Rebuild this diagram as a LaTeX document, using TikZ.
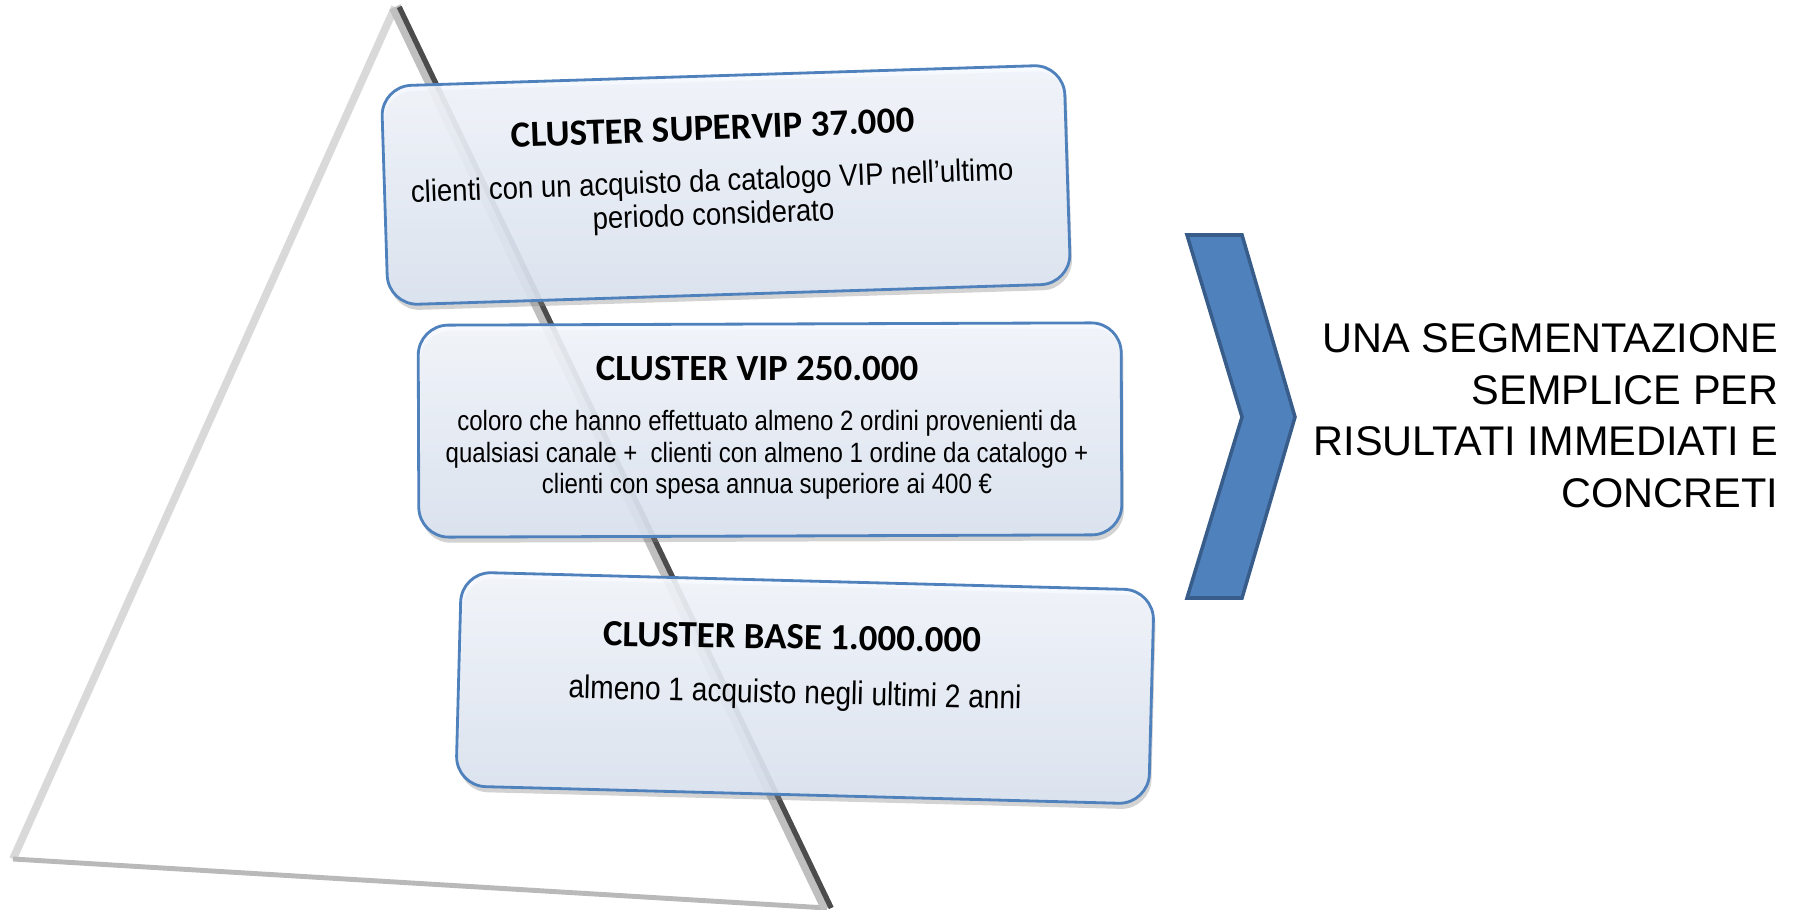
\documentclass[tikz,border=0pt]{standalone}
\usepackage{fontspec}
\setmainfont{Liberation Sans}
\newfontfamily\titlefont{Carlito}
\newfontfamily\narrowfont[FakeStretch=0.86]{Liberation Sans}
\newfontfamily\widenarrowfont[FakeStretch=0.89]{Liberation Sans}
\usetikzlibrary{shadows}

\definecolor{boxblue}{HTML}{4F81BD}
\definecolor{boxtop}{HTML}{F6F9FE}
\definecolor{boxbottom}{HTML}{DCE5F3}
\definecolor{chevfill}{HTML}{4F81BD}
\definecolor{chevdraw}{HTML}{385D8A}

\tikzset{
  cluster/.style={draw=boxblue, line width=0.8pt, rounded corners=0.3cm,
    top color=boxtop, bottom color=boxbottom, fill opacity=0.88,
    drop shadow={shadow xshift=0.6pt, shadow yshift=-1.6pt, opacity=0.35},
    inner sep=0pt},
  clustertitle/.style={font=\titlefont\bfseries\fontsize{10.5}{12}\selectfont, inner sep=0pt},
  clusterbody/.style 2 args={font=\narrowfont\fontsize{#1}{#2}\selectfont,
    align=center, inner sep=0pt},
  slogan/.style={font=\fontsize{11.8}{14.7}\selectfont, align=right, inner sep=0pt}
}

\begin{document}
\begin{tikzpicture}
  \useasboundingbox (0,0) rectangle (18.02,9.09);

  % pyramid
  \coordinate (apex) at (3.95,9.02);
  \coordinate (left) at (0.13,0.50);
  \coordinate (right) at (8.27,0.01);
  \fill[white] (apex) -- (left) -- (right) -- cycle;
  \draw[gray!30, line width=2.2pt] (apex) -- (left);
  \draw[gray!55, line width=1.4pt] (left) -- (right);
  \draw[gray!50, line width=3.5pt] (apex) -- (right);
  \draw[black!70, line width=1.5pt] ([xshift=1.2pt]apex) -- ([xshift=1.2pt]right);

  % clusters
  \node[cluster, minimum width=6.83cm, minimum height=2.19cm, rotate=1.8] (supervip) at (7.26,7.24) {};
  \node[cluster, minimum width=7.03cm, minimum height=2.12cm, rotate=0.2] (vip) at (7.70,4.79) {};
  \node[cluster, minimum width=6.93cm, minimum height=2.14cm, rotate=-1.5] (base) at (8.05,2.21) {};

  \node[clustertitle, rotate=2.2] (supervip title) at (7.13,7.81) {CLUSTER SUPERVIP 37.000};
  \node[clusterbody={8.8}{9.6}, font=\widenarrowfont\fontsize{8.8}{9.6}\selectfont, rotate=2.2]
    (supervip text) at (7.13,7.09)
    {clienti con un acquisto da catalogo VIP nell’ultimo\\periodo considerato};

  \node[clustertitle] (vip title) at (7.57,5.40) {CLUSTER VIP 250.000};
  \node[clusterbody={7.95}{8.9}] (vip text) at (7.67,4.54)
    {coloro che hanno effettuato almeno 2 ordini provenienti da\\
     qualsiasi canale +~ clienti con almeno 1 ordine da catalogo +\\
     clienti con spesa annua superiore ai 400 €};

  \node[clustertitle, rotate=-1] (base title) at (7.92,2.72) {CLUSTER BASE 1.000.000};
  \node[clusterbody={9.3}{11}, rotate=-1.4] (base text) at (7.95,2.14)
    {almeno 1 acquisto negli ultimi 2 anni};

  % chevron and message
  \draw[chevdraw, fill=chevfill, line width=1pt] (11.87,6.74) -- (12.42,6.74) -- (12.95,4.92)
    -- (12.42,3.11) -- (11.87,3.11) -- (12.42,4.92) -- cycle;
  \node[slogan, anchor=north east] (message) at (17.79,5.86)
    {UNA SEGMENTAZIONE\\SEMPLICE PER\\RISULTATI IMMEDIATI E\\CONCRETI};
\end{tikzpicture}
\end{document}
